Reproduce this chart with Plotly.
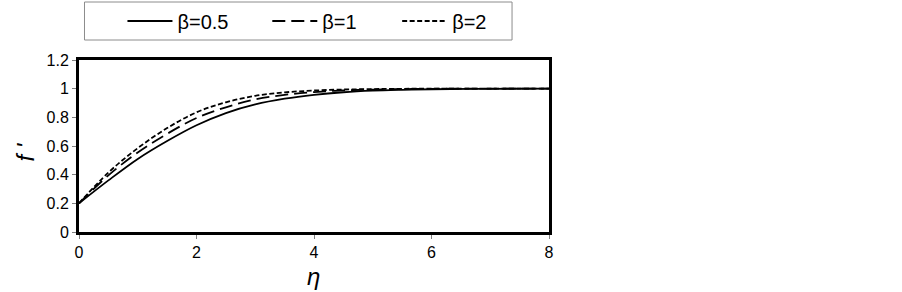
import plotly.graph_objects as go

eta = [0, 0.5, 1, 1.5, 2, 2.5, 3, 3.5, 4, 4.5, 5, 5.5, 6, 7, 8]
f_b05 = [0.2, 0.36, 0.51, 0.635, 0.745, 0.83, 0.89, 0.93, 0.957, 0.975, 0.986, 0.992, 0.996, 0.999, 1.0]
f_b1 = [0.2, 0.395, 0.555, 0.685, 0.795, 0.87, 0.925, 0.957, 0.976, 0.988, 0.994, 0.997, 0.999, 1.0, 1.0]
f_b2 = [0.2, 0.415, 0.585, 0.725, 0.835, 0.905, 0.95, 0.974, 0.987, 0.994, 0.997, 0.999, 1.0, 1.0, 1.0]
names = ["β=0.5", "β=1", "β=2"]
dashes = ["solid", "13px,6px", "5px,2.5px"]
x_title = "η"
y_title = "f '"

FONT = "Liberation Sans, Arial, sans-serif"

fig = go.Figure()
series = [f_b05, f_b1, f_b2]
legends = ["legend", "legend2", "legend3"]
for ys, nm, ds, lg in zip(series, names, dashes, legends):
    fig.add_trace(go.Scatter(
        x=eta, y=ys, mode="lines", name=nm, showlegend=True,
        line=dict(color="black", width=1.8, dash=ds, shape="spline"),
        legend=lg,
    ))

L, R, T, B = 78.5, 353, 60, 60
pw = 902 - L - R
ph = 292 - T - B

def px_x(p):
    return (p - L) / pw

def px_y(p):
    return (292 - B - p) / ph

leg_common = dict(
    orientation="h", yanchor="middle", xanchor="left",
    bgcolor="rgba(0,0,0,0)", borderwidth=0, itemwidth=45,
    font=dict(family=FONT, size=20, color="black"),
)
lx = [122, 267, 397]
fig.update_layout(
    showlegend=True,
    legend=dict(x=px_x(lx[0]), y=px_y(21), **leg_common),
    legend2=dict(x=px_x(lx[1]), y=px_y(21), **leg_common),
    legend3=dict(x=px_x(lx[2]), y=px_y(21), **leg_common),
)

fig.add_shape(type="rect", xref="paper", yref="paper",
              x0=px_x(84), x1=px_x(512), y0=px_y(40), y1=px_y(2),
              line=dict(color="#8c8c8c", width=1), fillcolor="rgba(0,0,0,0)")

fig.add_annotation(text="<i>" + x_title + "</i>", xref="paper", yref="paper",
                   x=px_x(313), y=px_y(276), xanchor="center", yanchor="middle",
                   showarrow=False, font=dict(family=FONT, size=24, color="black"))
fig.add_annotation(text="<i>" + y_title + "</i>", xref="paper", yref="paper",
                   x=px_x(24), y=px_y(152), xanchor="center", yanchor="middle",
                   textangle=-90, showarrow=False,
                   font=dict(family=FONT, size=24, color="black"))

fig.update_layout(
    width=902, height=292,
    margin=dict(l=L, r=R, t=T, b=B, autoexpand=False),
    paper_bgcolor="white", plot_bgcolor="white",
    font=dict(family=FONT, size=16, color="black"),
    xaxis=dict(
        range=[0, 8], tick0=0, dtick=2, showgrid=False, zeroline=False,
        showline=True, linecolor="black", linewidth=3, mirror=True,
        ticks="outside", ticklen=4, tickcolor="#808080", tickwidth=1,
        tickfont=dict(family=FONT, size=16, color="black"),
    ),
    yaxis=dict(
        range=[0, 1.2], tick0=0, dtick=0.2, showgrid=False, zeroline=False,
        showline=True, linecolor="black", linewidth=3, mirror=True,
        ticks="outside", ticklen=4, tickcolor="#808080", tickwidth=1,
        tickfont=dict(family=FONT, size=16, color="black"),
    ),
)

fig.write_html("out.html", config={"displayModeBar": False},
               post_script="document.body.style.margin='0';")
